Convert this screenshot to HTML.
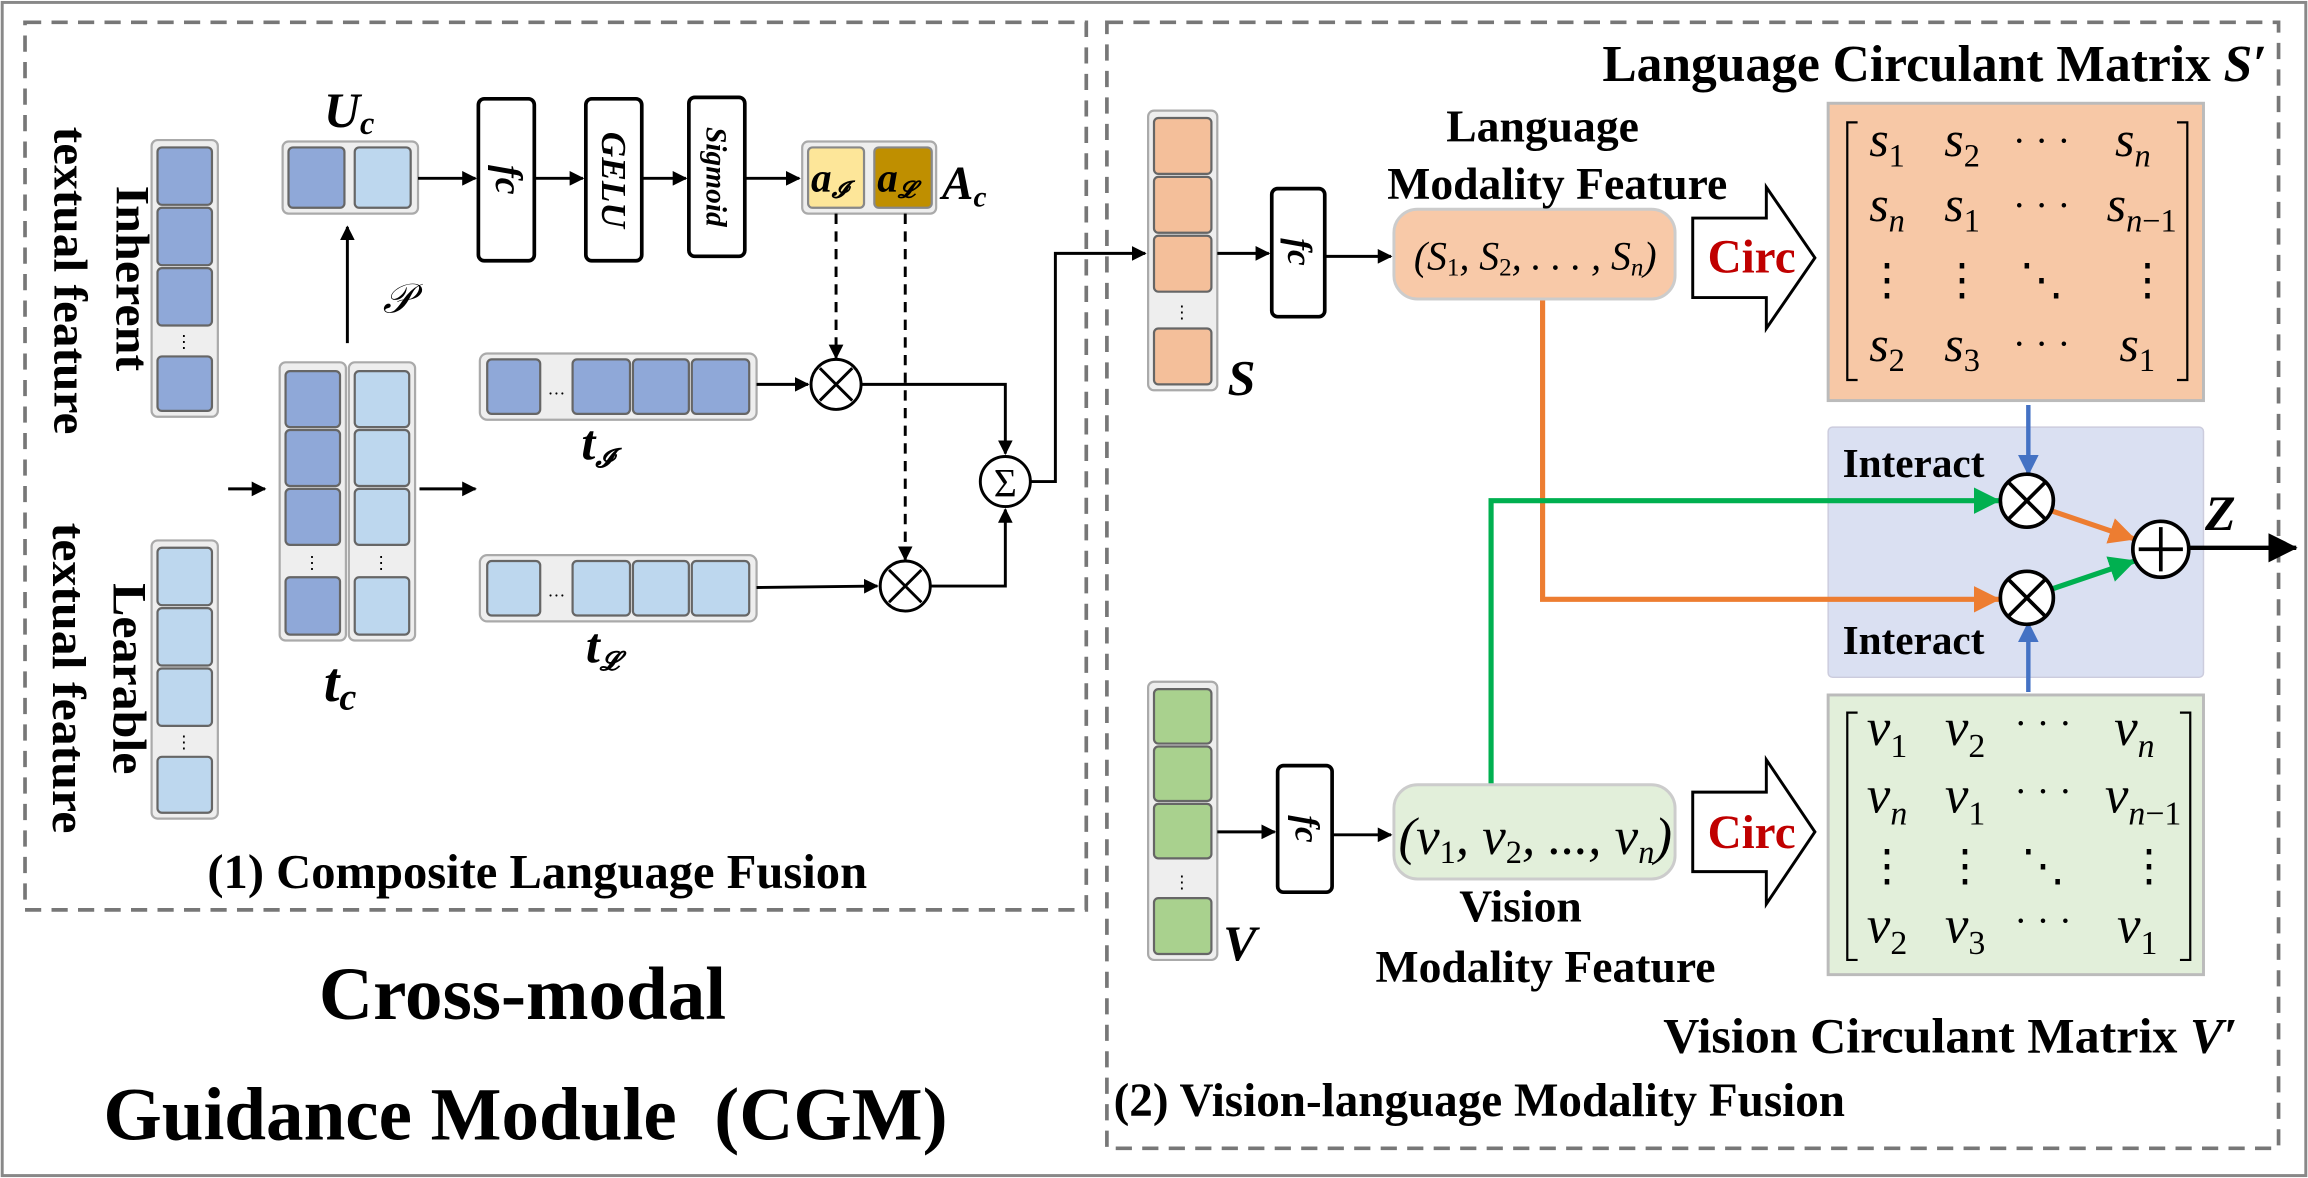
<!DOCTYPE html>
<html><head><meta charset="utf-8"><style>
html,body{margin:0;padding:0;background:#fff}
svg{display:block}
text{font-family:"Liberation Serif",serif}
.b{font-weight:bold}
.i{font-style:italic}
</style></head><body>
<svg width="2308" height="1178" viewBox="0 0 1568 800" xmlns="http://www.w3.org/2000/svg">
<defs>
<marker id="ah" markerWidth="10" markerHeight="10" refX="9" refY="5" orient="auto" markerUnits="userSpaceOnUse"><path d="M0,0 L10,5 L0,10 Z" fill="#000"/></marker>
<marker id="ahb" markerWidth="14" markerHeight="14" refX="13" refY="7" orient="auto" markerUnits="userSpaceOnUse"><path d="M0,0 L14,7 L0,14 Z" fill="#4472c4"/></marker>
<marker id="aho" markerWidth="18" markerHeight="18" refX="17" refY="9" orient="auto" markerUnits="userSpaceOnUse"><path d="M0,0 L18,9 L0,18 Z" fill="#ed7d31"/></marker>
<marker id="ahg" markerWidth="18" markerHeight="18" refX="17" refY="9" orient="auto" markerUnits="userSpaceOnUse"><path d="M0,0 L18,9 L0,18 Z" fill="#00b050"/></marker>
<marker id="ahk" markerWidth="20" markerHeight="20" refX="19" refY="10" orient="auto" markerUnits="userSpaceOnUse"><path d="M0,0 L20,10 L0,20 Z" fill="#000"/></marker>
</defs>
<rect x="1.5" y="1.5" width="1565" height="797" fill="#fff" stroke="#888" stroke-width="2"/>
<rect x="17" y="15" width="721" height="603" fill="none" stroke="#777" stroke-width="2.5" stroke-dasharray="11,7"/>
<rect x="752" y="15" width="796" height="765" fill="none" stroke="#777" stroke-width="2.5" stroke-dasharray="11,7"/>

<!-- Left vertical labels -->
<text transform="translate(79,126) rotate(90)" font-size="32" class="b" textLength="126" lengthAdjust="spacingAndGlyphs">Inherent</text>
<text transform="translate(37,86) rotate(90)" font-size="32" class="b" textLength="209" lengthAdjust="spacingAndGlyphs">textual feature</text>
<text transform="translate(77,396) rotate(90)" font-size="32" class="b" textLength="130" lengthAdjust="spacingAndGlyphs">Learable</text>
<text transform="translate(36,355) rotate(90)" font-size="32" class="b" textLength="211" lengthAdjust="spacingAndGlyphs">textual feature</text>

<!-- Inherent column -->
<rect x="103" y="95" width="45" height="188" rx="4" fill="#eee" stroke="#aaa" stroke-width="1.5"/>
<g fill="#8fa8d8" stroke="#666" stroke-width="1.5">
<rect x="107" y="100" width="37" height="39" rx="3"/><rect x="107" y="141" width="37" height="39" rx="3"/><rect x="107" y="182" width="37" height="39" rx="3"/><rect x="107" y="242" width="37" height="37" rx="3"/>
</g>
<text x="125" y="236" font-size="12" text-anchor="middle">⋮</text>
<!-- Learable column -->
<rect x="103" y="367" width="45" height="189" rx="4" fill="#eee" stroke="#aaa" stroke-width="1.5"/>
<g fill="#bdd7ee" stroke="#666" stroke-width="1.5">
<rect x="107" y="372" width="37" height="39" rx="3"/><rect x="107" y="413" width="37" height="39" rx="3"/><rect x="107" y="454" width="37" height="39" rx="3"/><rect x="107" y="514" width="37" height="38" rx="3"/>
</g>
<text x="125" y="508" font-size="12" text-anchor="middle">⋮</text>

<line x1="155" y1="332" x2="180" y2="332" stroke="#000" stroke-width="2" marker-end="url(#ah)"/>
<!-- tc -->
<rect x="190" y="246" width="45" height="189" rx="4" fill="#eee" stroke="#aaa" stroke-width="1.5"/>
<rect x="237" y="246" width="45" height="189" rx="4" fill="#eee" stroke="#aaa" stroke-width="1.5"/>
<g fill="#8fa8d8" stroke="#666" stroke-width="1.5">
<rect x="194" y="252" width="37" height="38" rx="3"/><rect x="194" y="292" width="37" height="38" rx="3"/><rect x="194" y="332" width="37" height="38" rx="3"/><rect x="194" y="392" width="37" height="39" rx="3"/>
</g>
<g fill="#bdd7ee" stroke="#666" stroke-width="1.5">
<rect x="241" y="252" width="37" height="38" rx="3"/><rect x="241" y="292" width="37" height="38" rx="3"/><rect x="241" y="332" width="37" height="38" rx="3"/><rect x="241" y="392" width="37" height="39" rx="3"/>
</g>
<text x="212" y="386" font-size="12" text-anchor="middle">⋮</text>
<text x="259" y="386" font-size="12" text-anchor="middle">⋮</text>
<text x="220" y="476" font-size="38" class="b i">t<tspan font-size="26" dy="6">c</tspan></text>
<line x1="285" y1="332" x2="323" y2="332" stroke="#000" stroke-width="2" marker-end="url(#ah)"/>
<line x1="236" y1="233" x2="236" y2="154" stroke="#000" stroke-width="2" marker-end="url(#ah)"/>
<text x="260" y="212" font-size="28" class="i">𝒫</text>

<!-- Uc -->
<rect x="192" y="96" width="92" height="49" rx="4" fill="#eee" stroke="#aaa" stroke-width="1.5"/>
<rect x="196" y="100" width="38" height="41" rx="3" fill="#8fa8d8" stroke="#666" stroke-width="1.5"/>
<rect x="241" y="100" width="38" height="41" rx="3" fill="#bdd7ee" stroke="#666" stroke-width="1.5"/>
<text x="220" y="86" font-size="34" class="b i">U<tspan font-size="22" dy="5">c</tspan></text>
<line x1="284" y1="121" x2="323" y2="121" stroke="#000" stroke-width="2" marker-end="url(#ah)"/>
<rect x="325" y="67" width="38" height="110" rx="4" fill="#fff" stroke="#000" stroke-width="2.5"/>
<text transform="translate(337,122) rotate(90)" font-size="26" class="b i" text-anchor="middle">fc</text>
<line x1="363" y1="121" x2="396" y2="121" stroke="#000" stroke-width="2" marker-end="url(#ah)"/>
<rect x="398" y="67" width="38" height="110" rx="4" fill="#fff" stroke="#000" stroke-width="2.5"/>
<text transform="translate(409,122) rotate(90)" font-size="24" class="b i" text-anchor="middle">GELU</text>
<line x1="436" y1="121" x2="466" y2="121" stroke="#000" stroke-width="2" marker-end="url(#ah)"/>
<rect x="468" y="66" width="38" height="108" rx="4" fill="#fff" stroke="#000" stroke-width="2.5"/>
<text transform="translate(480,120) rotate(90)" font-size="20" class="b i" text-anchor="middle">Sigmoid</text>
<line x1="506" y1="121" x2="543" y2="121" stroke="#000" stroke-width="2" marker-end="url(#ah)"/>
<!-- Ac -->
<rect x="545" y="96" width="91" height="49" rx="4" fill="#eee" stroke="#aaa" stroke-width="1.5"/>
<rect x="549" y="100" width="38" height="41" rx="3" fill="#fde699" stroke="#888" stroke-width="1.5"/>
<rect x="594" y="100" width="39" height="41" rx="3" fill="#bf8f00" stroke="#888" stroke-width="1.5"/>
<text x="551" y="130" font-size="28" class="b i">a<tspan font-size="16" dy="4">𝓘</tspan></text>
<text x="596" y="130" font-size="28" class="b i">a<tspan font-size="16" dy="4">𝓛</tspan></text>
<text x="640" y="135" font-size="32" class="b i">A<tspan font-size="20" dy="5">c</tspan></text>
<line x1="568" y1="145" x2="568" y2="243" stroke="#000" stroke-width="2" stroke-dasharray="7,5" marker-end="url(#ah)"/>
<line x1="615" y1="145" x2="615" y2="380" stroke="#000" stroke-width="2" stroke-dasharray="7,5" marker-end="url(#ah)"/>

<!-- tI -->
<rect x="326" y="240" width="188" height="45" rx="5" fill="#eee" stroke="#aaa" stroke-width="1.5"/>
<g fill="#8fa8d8" stroke="#666" stroke-width="1.5">
<rect x="331" y="244" width="36" height="37" rx="3"/><rect x="389" y="244" width="39" height="37" rx="3"/><rect x="430" y="244" width="38" height="37" rx="3"/><rect x="470" y="244" width="39" height="37" rx="3"/>
</g>
<text x="378" y="268" font-size="12" text-anchor="middle">…</text>
<text x="395" y="312" font-size="34" class="b i">t<tspan font-size="18" dy="5">𝓘</tspan></text>
<!-- tL -->
<rect x="326" y="377" width="188" height="45" rx="5" fill="#eee" stroke="#aaa" stroke-width="1.5"/>
<g fill="#bdd7ee" stroke="#666" stroke-width="1.5">
<rect x="331" y="381" width="36" height="37" rx="3"/><rect x="389" y="381" width="39" height="37" rx="3"/><rect x="430" y="381" width="38" height="37" rx="3"/><rect x="470" y="381" width="39" height="37" rx="3"/>
</g>
<text x="378" y="405" font-size="12" text-anchor="middle">…</text>
<text x="398" y="450" font-size="34" class="b i">t<tspan font-size="18" dy="5">𝓛</tspan></text>

<line x1="514" y1="261" x2="549" y2="261" stroke="#000" stroke-width="2" marker-end="url(#ah)"/>
<line x1="514" y1="399" x2="596" y2="398" stroke="#000" stroke-width="2" marker-end="url(#ah)"/>
<g fill="#fff" stroke="#000" stroke-width="2">
<circle cx="568" cy="261" r="17"/><circle cx="615" cy="398" r="17"/><circle cx="683" cy="327" r="17"/>
</g>
<g stroke="#000" stroke-width="2">
<path d="M557,250 L579,272 M579,250 L557,272"/><path d="M604,387 L626,409 M626,387 L604,409"/>
</g>
<text x="683" y="337" font-size="27" text-anchor="middle">Σ</text>
<polyline points="585,261 683,261 683,308" fill="none" stroke="#000" stroke-width="2" marker-end="url(#ah)"/>
<polyline points="632,398 683,398 683,346" fill="none" stroke="#000" stroke-width="2" marker-end="url(#ah)"/>
<polyline points="700,327 717,327 717,172 778,172" fill="none" stroke="#000" stroke-width="2" marker-end="url(#ah)"/>

<text x="365" y="603" font-size="33" class="b" text-anchor="middle">(1) Composite Language Fusion</text>
<text x="355" y="692" font-size="51" class="b" text-anchor="middle">Cross-modal</text>
<text x="357" y="774" font-size="51" class="b" text-anchor="middle" xml:space="preserve">Guidance Module  (CGM)</text>

<!-- Right section: S -->
<rect x="780" y="75" width="47" height="190" rx="4" fill="#eee" stroke="#aaa" stroke-width="1.5"/>
<g fill="#f4bf9a" stroke="#666" stroke-width="1.5">
<rect x="784" y="80" width="39" height="38" rx="3"/><rect x="784" y="120" width="39" height="38" rx="3"/><rect x="784" y="160" width="39" height="38" rx="3"/><rect x="784" y="223" width="39" height="38" rx="3"/>
</g>
<text x="803" y="216" font-size="12" text-anchor="middle">⋮</text>
<text x="834" y="268" font-size="34" class="b i">S</text>
<line x1="827" y1="172" x2="862" y2="172" stroke="#000" stroke-width="2" marker-end="url(#ah)"/>
<rect x="864" y="128" width="36" height="87" rx="4" fill="#fff" stroke="#000" stroke-width="2.5"/>
<text transform="translate(875,171) rotate(90)" font-size="24" class="b i" text-anchor="middle">fc</text>
<line x1="900" y1="174" x2="945" y2="174" stroke="#000" stroke-width="2" marker-end="url(#ah)"/>
<rect x="947" y="142" width="191" height="61" rx="16" fill="#f8c9a8" stroke="#ccc" stroke-width="2"/>
<text x="1043" y="183" font-size="27" text-anchor="middle" class="i">(S<tspan font-size="17" dy="4" font-style="normal">1</tspan><tspan dy="-4">, S</tspan><tspan font-size="17" dy="4" font-style="normal">2</tspan><tspan dy="-4">, . . . , S</tspan><tspan font-size="17" dy="4">n</tspan><tspan dy="-4">)</tspan></text>
<text x="1048" y="96" font-size="31" class="b" text-anchor="middle">Language</text>
<text x="1058" y="135" font-size="31" class="b" text-anchor="middle">Modality Feature</text>
<path d="M1150,148 L1200,148 L1200,127 L1233,175 L1200,223 L1200,202 L1150,202 Z" fill="#fff" stroke="#000" stroke-width="2"/>
<text x="1190" y="185" font-size="32" class="b" fill="#c00000" text-anchor="middle">Circ</text>

<text x="1540" y="55" font-size="35" class="b" text-anchor="end">Language Circulant Matrix <tspan class="i">S′</tspan></text>
<rect x="1242" y="70" width="255" height="202" fill="#f7c8a6" stroke="#bbb" stroke-width="2"/>
<path d="M1262,83 L1255,83 L1255,258 L1262,258 M1479,83 L1486,83 L1486,258 L1479,258" fill="none" stroke="#000" stroke-width="1.5"/>
<g font-size="34" class="i" text-anchor="middle">
<text x="1282" y="106">s<tspan font-size="22" dy="7" font-style="normal">1</tspan></text>
<text x="1333" y="106">s<tspan font-size="22" dy="7" font-style="normal">2</tspan></text>
<text x="1387" y="104" font-style="normal" font-size="26">· · ·</text>
<text x="1449" y="106">s<tspan font-size="22" dy="7">n</tspan></text>
<text x="1282" y="150">s<tspan font-size="22" dy="7">n</tspan></text>
<text x="1333" y="150">s<tspan font-size="22" dy="7" font-style="normal">1</tspan></text>
<text x="1387" y="148" font-style="normal" font-size="26">· · ·</text>
<text x="1455" y="150">s<tspan font-size="22" dy="7">n</tspan><tspan font-size="22" font-style="normal">−1</tspan></text>
<text x="1282" y="200" font-style="normal" font-size="30">⋮</text>
<text x="1333" y="200" font-style="normal" font-size="30">⋮</text>
<text x="1387" y="200" font-style="normal" font-size="30">⋱</text>
<text x="1459" y="200" font-style="normal" font-size="30">⋮</text>
<text x="1282" y="245">s<tspan font-size="22" dy="7" font-style="normal">2</tspan></text>
<text x="1333" y="245">s<tspan font-size="22" dy="7" font-style="normal">3</tspan></text>
<text x="1387" y="242" font-style="normal" font-size="26">· · ·</text>
<text x="1452" y="245">s<tspan font-size="22" dy="7" font-style="normal">1</tspan></text>
</g>

<rect x="1242" y="290" width="255" height="170" rx="3" fill="#dae0f2" stroke="#ccd" stroke-width="1"/>
<text x="1300" y="324" font-size="28" class="b" text-anchor="middle">Interact</text>
<text x="1300" y="444" font-size="28" class="b" text-anchor="middle">Interact</text>

<rect x="1242" y="472" width="255" height="190" fill="#e2efda" stroke="#bbb" stroke-width="2"/>
<path d="M1262,484 L1255,484 L1255,652 L1262,652 M1481,484 L1488,484 L1488,652 L1481,652" fill="none" stroke="#000" stroke-width="1.5"/>
<g font-size="36" class="i" text-anchor="middle">
<text x="1282" y="506">v<tspan font-size="23" dy="8" font-style="normal">1</tspan></text>
<text x="1335" y="506">v<tspan font-size="23" dy="8" font-style="normal">2</tspan></text>
<text x="1388" y="500" font-style="normal" font-size="26">· · ·</text>
<text x="1450" y="506">v<tspan font-size="23" dy="8">n</tspan></text>
<text x="1282" y="552">v<tspan font-size="23" dy="8">n</tspan></text>
<text x="1335" y="552">v<tspan font-size="23" dy="8" font-style="normal">1</tspan></text>
<text x="1388" y="546" font-style="normal" font-size="26">· · ·</text>
<text x="1456" y="552">v<tspan font-size="23" dy="8">n</tspan><tspan font-size="23" font-style="normal">−1</tspan></text>
<text x="1282" y="598" font-style="normal" font-size="30">⋮</text>
<text x="1335" y="598" font-style="normal" font-size="30">⋮</text>
<text x="1388" y="598" font-style="normal" font-size="30">⋱</text>
<text x="1460" y="598" font-style="normal" font-size="30">⋮</text>
<text x="1282" y="640">v<tspan font-size="23" dy="8" font-style="normal">2</tspan></text>
<text x="1335" y="640">v<tspan font-size="23" dy="8" font-style="normal">3</tspan></text>
<text x="1388" y="634" font-style="normal" font-size="26">· · ·</text>
<text x="1452" y="640">v<tspan font-size="23" dy="8" font-style="normal">1</tspan></text>
</g>

<!-- connectors -->
<line x1="1378" y1="275" x2="1378" y2="322" stroke="#4472c4" stroke-width="3" marker-end="url(#ahb)"/>
<line x1="1378" y1="470" x2="1378" y2="423" stroke="#4472c4" stroke-width="3" marker-end="url(#ahb)"/>
<polyline points="1048,204 1048,407 1358,407" fill="none" stroke="#ed7d31" stroke-width="3.5" marker-end="url(#aho)"/>
<polyline points="1013,533 1013,340 1358,340" fill="none" stroke="#00b050" stroke-width="3.5" marker-end="url(#ahg)"/>
<line x1="1394" y1="347" x2="1450" y2="366" stroke="#ed7d31" stroke-width="3.5" marker-end="url(#aho)"/>
<line x1="1394" y1="400" x2="1450" y2="381" stroke="#00b050" stroke-width="3.5" marker-end="url(#ahg)"/>
<g fill="#fff" stroke="#000" stroke-width="2.5">
<circle cx="1377" cy="340" r="18"/><circle cx="1377" cy="406" r="18"/><circle cx="1468" cy="373" r="19"/>
</g>
<g stroke="#000" stroke-width="2.5">
<path d="M1364,327 L1390,353 M1390,327 L1364,353"/><path d="M1364,393 L1390,419 M1390,393 L1364,419"/>
<path d="M1468,358 L1468,388 M1453,373 L1483,373"/>
</g>
<line x1="1487" y1="372" x2="1560" y2="372" stroke="#000" stroke-width="3" marker-end="url(#ahk)"/>
<text x="1498" y="360" font-size="34" class="b i">Z</text>

<!-- V -->
<rect x="780" y="463" width="47" height="189" rx="4" fill="#eee" stroke="#aaa" stroke-width="1.5"/>
<g fill="#a9d18e" stroke="#666" stroke-width="1.5">
<rect x="784" y="468" width="39" height="37" rx="3"/><rect x="784" y="507" width="39" height="37" rx="3"/><rect x="784" y="546" width="39" height="37" rx="3"/><rect x="784" y="610" width="39" height="38" rx="3"/>
</g>
<text x="803" y="603" font-size="12" text-anchor="middle">⋮</text>
<text x="831" y="652" font-size="34" class="b i">V</text>
<line x1="827" y1="565" x2="866" y2="565" stroke="#000" stroke-width="2" marker-end="url(#ah)"/>
<rect x="868" y="520" width="37" height="86" rx="4" fill="#fff" stroke="#000" stroke-width="2.5"/>
<text transform="translate(880,563) rotate(90)" font-size="24" class="b i" text-anchor="middle">fc</text>
<line x1="905" y1="567" x2="945" y2="567" stroke="#000" stroke-width="2" marker-end="url(#ah)"/>
<rect x="947" y="533" width="191" height="64" rx="16" fill="#e2efda" stroke="#ccc" stroke-width="2"/>
<text x="1043" y="580" font-size="36" text-anchor="middle" class="i">(v<tspan font-size="22" dy="6" font-style="normal">1</tspan><tspan dy="-6">, v</tspan><tspan font-size="22" dy="6" font-style="normal">2</tspan><tspan dy="-6">, ..., v</tspan><tspan font-size="22" dy="6">n</tspan><tspan dy="-6">)</tspan></text>
<text x="1033" y="626" font-size="31" class="b" text-anchor="middle">Vision</text>
<text x="1050" y="667" font-size="31" class="b" text-anchor="middle">Modality Feature</text>
<path d="M1150,538 L1200,538 L1200,516 L1233,565 L1200,614 L1200,592 L1150,592 Z" fill="#fff" stroke="#000" stroke-width="2"/>
<text x="1190" y="576" font-size="32" class="b" fill="#c00000" text-anchor="middle">Circ</text>
<text x="1520" y="715" font-size="34" class="b" text-anchor="end">Vision Circulant Matrix <tspan class="i">V′</tspan></text>
<text x="1005" y="758" font-size="32" class="b" text-anchor="middle">(2) Vision-language Modality Fusion</text>
</svg>
</body></html>
